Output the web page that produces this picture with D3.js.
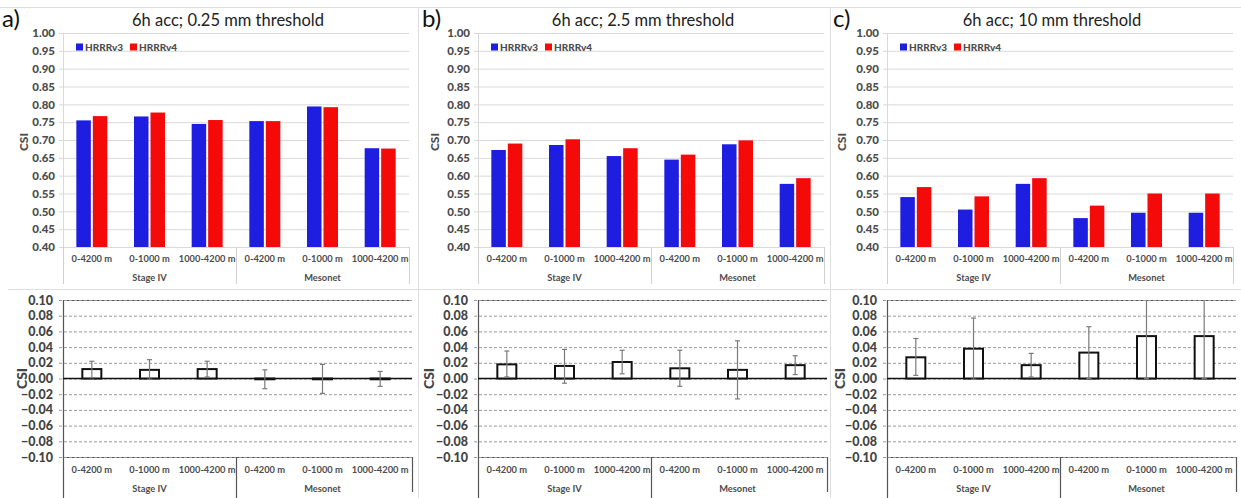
<!DOCTYPE html>
<html>
<head>
<meta charset="utf-8">
<script src="https://cdn.jsdelivr.net/npm/d3@7"></script>
<style>
  html, body { margin: 0; padding: 0; background: #ffffff; }
  svg { display: block; font-family: Lato, "Open Sans", sans-serif; }
</style>
</head>
<body>
<svg id="chart" width="1241" height="498"></svg>
<script>
// ---- Data ----
const categories = ["0-4200 m", "0-1000 m", "1000-4200 m", "0-4200 m", "0-1000 m", "1000-4200 m"];
const groups = ["Stage IV", "Mesonet"];
const panelLabels = ["a)", "b)", "c)"];
const titles = ["6h acc; 0.25 mm threshold", "6h acc; 2.5 mm threshold", "6h acc; 10 mm threshold"];
const seriesNames = ["HRRRv3", "HRRRv4"];

// CSI per panel (a, b, c), one value per category
const hrrrv3 = [
  [0.755, 0.766, 0.745, 0.753, 0.794, 0.677],
  [0.672, 0.686, 0.655, 0.645, 0.688, 0.577],
  [0.540, 0.505, 0.577, 0.481, 0.496, 0.496]
];
const hrrrv4 = [
  [0.767, 0.777, 0.756, 0.753, 0.792, 0.676],
  [0.690, 0.702, 0.677, 0.659, 0.699, 0.593],
  [0.568, 0.542, 0.593, 0.516, 0.550, 0.550]
];
// CSI difference (HRRRv4 - HRRRv3) with confidence bounds
const csiDiff = [
  [0.012, 0.011, 0.012, -0.001, -0.001, -0.001],
  [0.018, 0.016, 0.021, 0.013, 0.011, 0.017],
  [0.027, 0.038, 0.017, 0.033, 0.054, 0.054]
];
const diffLow = [
  [0.001, -0.001, 0.002, -0.013, -0.019, -0.010],
  [0.002, -0.006, 0.006, -0.010, -0.026, 0.005],
  [0.004, -0.001, 0.002, 0.000, 0.000, 0.000]
];
const diffHigh = [
  [0.022, 0.024, 0.022, 0.011, 0.018, 0.009],
  [0.035, 0.037, 0.036, 0.036, 0.048, 0.029],
  [0.051, 0.077, 0.032, 0.066, 0.108, 0.108]
];
const csiTicks = [0.40, 0.45, 0.50, 0.55, 0.60, 0.65, 0.70, 0.75, 0.80, 0.85, 0.90, 0.95, 1.00];
const diffTicks = [-0.10, -0.08, -0.06, -0.04, -0.02, 0.00, 0.02, 0.04, 0.06, 0.08, 0.10];

// ---- Layout ----
const panelX = [63, 478, 887];
const plotW = 346;
const topY = [247, 33];
const botY = [457, 300];
const csiTopX = [24, 435, 842];
const csiBotX = [22, 429, 840];
const labelX = [2, 422, 833];
const colors = { HRRRv3: "#1e1ee0", HRRRv4: "#f50a0a" };
const tickColor = "#4d4d4d";
const heavy = 900;

const svg = d3.select("#chart");

// Panel frame lines
const frame = svg.append("g").attr("stroke", "#dedede").attr("stroke-width", 1);
frame.append("line").attr("x1", 0).attr("x2", 1241).attr("y1", 7.5).attr("y2", 7.5);
frame.append("line").attr("x1", 8).attr("x2", 1241).attr("y1", 289.5).attr("y2", 289.5);
[418.5, 830.5].forEach(x => frame.append("line").attr("x1", x).attr("x2", x).attr("y1", 7).attr("y2", 498));

svg.append("defs").selectAll("clipPath")
  .data(panelX)
  .join("clipPath")
  .attr("id", (d, i) => "clip" + i)
  .append("rect")
  .attr("x", d => d - 5).attr("y", botY[1]).attr("width", plotW + 10).attr("height", botY[0] - botY[1] + 40);

panelX.forEach((x0, p) => {
  const g = svg.append("g");
  const x = d3.scaleBand().domain(d3.range(categories.length)).range([x0, x0 + plotW]);
  const bw = x.bandwidth();
  const xs = d3.scaleBand().domain(seriesNames).range([bw / 2 - 15.5, bw / 2 + 15.5]).paddingInner(0.12);

  // Panel letter and title
  g.append("text").attr("x", labelX[p]).attr("y", 27)
    .attr("font-size", 24).attr("fill", "#111").text(panelLabels[p]);
  g.append("text").attr("x", x0 + plotW / 2 - 8).attr("y", 26)
    .attr("text-anchor", "middle").attr("font-size", 16.5).attr("fill", "#222").text(titles[p]);

  // ---------- Top: CSI bars ----------
  const y = d3.scaleLinear().domain([0.40, 1.00]).range(topY);

  const yAxis = g.append("g").attr("transform", `translate(${x0},0)`)
    .call(d3.axisLeft(y).tickValues(csiTicks).tickFormat(d3.format(".2f"))
      .tickSize(-plotW).tickPadding(8));
  yAxis.select(".domain").attr("stroke", "#d9d9d9");
  yAxis.selectAll(".tick line").attr("stroke", "#d9d9d9").attr("x1", -4);
  yAxis.selectAll(".tick text").attr("font-size", 11.5).attr("font-weight", heavy)
    .attr("fill", tickColor).attr("font-family", "Lato, sans-serif");

  g.append("text")
    .attr("transform", `translate(${csiTopX[p]},${(topY[0] + topY[1]) / 2 + 2}) rotate(-90)`)
    .attr("text-anchor", "middle").attr("dy", "0.35em")
    .attr("font-size", 12).attr("font-weight", heavy).attr("fill", tickColor).text("CSI");

  const barData = [];
  categories.forEach((c, i) => {
    barData.push({ i, s: "HRRRv3", v: hrrrv3[p][i] });
    barData.push({ i, s: "HRRRv4", v: hrrrv4[p][i] });
  });
  g.append("g").selectAll("rect").data(barData).join("rect")
    .attr("x", d => x(d.i) + xs(d.s))
    .attr("width", xs.bandwidth())
    .attr("y", d => y(d.v))
    .attr("height", d => y(0.40) - y(d.v))
    .attr("fill", d => colors[d.s]);

  // Legend
  const leg = g.append("g").attr("transform", `translate(${x0 + 13},47)`);
  seriesNames.forEach((s, k) => {
    const lx = k * 54;
    leg.append("rect").attr("x", lx).attr("y", -3.5).attr("width", 7).attr("height", 7).attr("fill", colors[s]);
    leg.append("text").attr("x", lx + 9).attr("y", 0).attr("dy", "0.35em")
      .attr("font-size", 10).attr("font-weight", heavy).attr("fill", tickColor).text(s);
  });

  // Two-level category axis (light)
  const catTop = g.append("g");
  catTop.selectAll("text.cat").data(categories).join("text")
    .attr("class", "cat")
    .attr("x", (d, i) => x(i) + bw / 2).attr("y", 262)
    .attr("text-anchor", "middle").attr("font-size", 9.3).attr("font-weight", "bold")
    .attr("fill", tickColor).text(d => d);
  catTop.selectAll("text.grp").data(groups).join("text")
    .attr("class", "grp")
    .attr("x", (d, k) => x(k * 3) + bw * 1.5).attr("y", 281)
    .attr("text-anchor", "middle").attr("font-size", 9.3).attr("font-weight", "bold")
    .attr("fill", tickColor).text(d => d);
  [0, 3, 6].forEach(k => {
    const lx = Math.round(k < 6 ? x(k) : x0 + plotW) + 0.5;
    catTop.append("line").attr("x1", lx).attr("x2", lx).attr("y1", topY[0]).attr("y2", 284)
      .attr("stroke", "#d0d0d0");
  });

  // ---------- Bottom: CSI differences ----------
  const yd = d3.scaleLinear().domain([-0.10, 0.10]).range(botY);

  const dAxis = g.append("g").attr("transform", `translate(${x0},0)`)
    .call(d3.axisLeft(yd).tickValues(diffTicks).tickFormat(d3.format(".2f"))
      .tickSize(-plotW - 3).tickPadding(10));
  dAxis.select(".domain").attr("stroke", "#555").attr("stroke-width", 1.2);
  dAxis.selectAll(".tick line").attr("stroke", "#9a9a9a").attr("stroke-dasharray", "3,2").attr("x1", -4);
  dAxis.selectAll(".tick text").attr("font-size", 12.5).attr("font-weight", heavy)
    .attr("fill", "#444").attr("font-family", "Lato, sans-serif");

  g.append("text")
    .attr("transform", `translate(${csiBotX[p]},${(botY[0] + botY[1]) / 2}) rotate(-90)`)
    .attr("text-anchor", "middle").attr("dy", "0.35em")
    .attr("font-size", 14).attr("font-weight", heavy).attr("fill", "#444").text("CSI");

  // zero line
  g.append("line").attr("x1", x0).attr("x2", x0 + plotW + 3)
    .attr("y1", yd(0)).attr("y2", yd(0)).attr("stroke", "#111").attr("stroke-width", 1.3);

  const diffG = g.append("g").attr("clip-path", `url(#clip${p})`);
  const dBarW = 19;
  diffG.selectAll("rect").data(csiDiff[p]).join("rect")
    .attr("x", (d, i) => x(i) + bw / 2 - dBarW / 2)
    .attr("width", dBarW)
    .attr("y", d => yd(Math.max(d, 0)))
    .attr("height", d => Math.max(Math.abs(yd(d) - yd(0)), 0.5))
    .attr("fill", "#fff").attr("stroke", "#111").attr("stroke-width", 2);

  const err = diffG.append("g").attr("stroke", "#7a7a7a").attr("stroke-width", 1.2);
  categories.forEach((c, i) => {
    const cx = x(i) + bw / 2;
    const lo = yd(diffLow[p][i]), hi = yd(diffHigh[p][i]);
    err.append("line").attr("x1", cx).attr("x2", cx).attr("y1", lo).attr("y2", hi);
    err.append("line").attr("x1", cx - 2.5).attr("x2", cx + 2.5).attr("y1", lo).attr("y2", lo);
    err.append("line").attr("x1", cx - 2.5).attr("x2", cx + 2.5).attr("y1", hi).attr("y2", hi);
  });

  // Two-level category axis (dark)
  const catBot = g.append("g");
  catBot.selectAll("text.cat").data(categories).join("text")
    .attr("class", "cat")
    .attr("x", (d, i) => x(i) + bw / 2).attr("y", 473)
    .attr("text-anchor", "middle").attr("font-size", 9.3).attr("font-weight", "bold")
    .attr("fill", tickColor).text(d => d);
  catBot.selectAll("text.grp").data(groups).join("text")
    .attr("class", "grp")
    .attr("x", (d, k) => x(k * 3) + bw * 1.5).attr("y", 492)
    .attr("text-anchor", "middle").attr("font-size", 9.3).attr("font-weight", "bold")
    .attr("fill", tickColor).text(d => d);
  [0, 3, 6].forEach(k => {
    const lx = Math.round(k < 6 ? x(k) : x0 + plotW + 3) + 0.5;
    catBot.append("line").attr("x1", lx).attr("x2", lx).attr("y1", botY[0]).attr("y2", k === 6 ? 492 : 498)
      .attr("stroke", "#555").attr("stroke-width", 1.2);
  });
});
</script>
</body>
</html>
